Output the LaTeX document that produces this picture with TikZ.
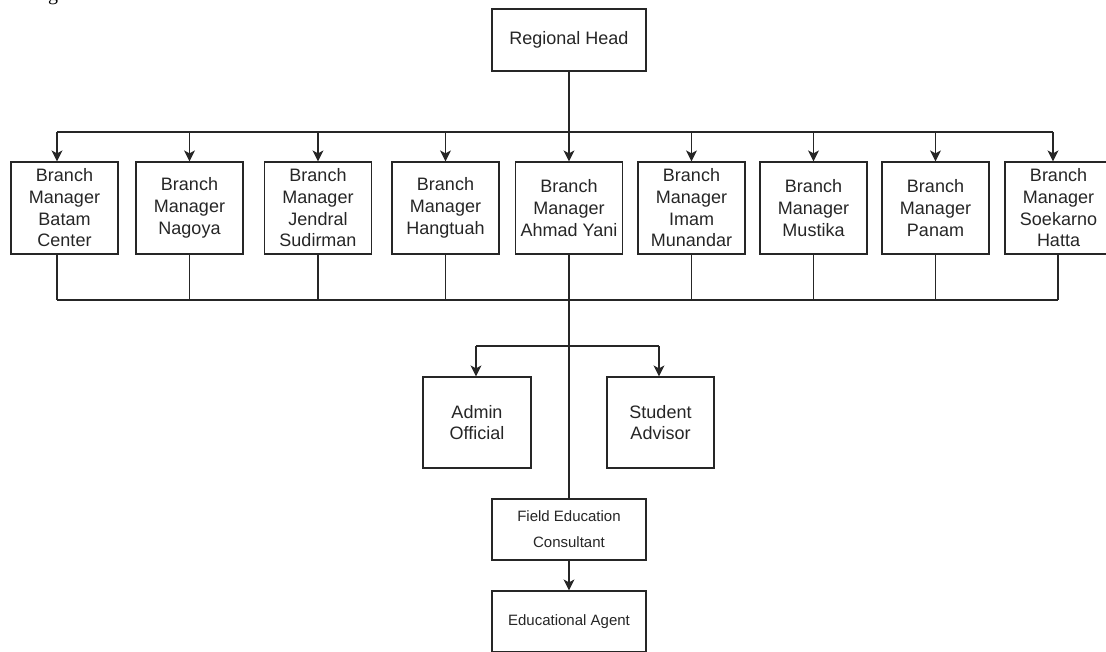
\documentclass[tikz,border=0pt]{standalone}
\usepackage{fontspec}
\setmainfont{Liberation Sans}
\newfontfamily\serifg{Liberation Serif}
\usetikzlibrary{arrows.meta}
\begin{document}
\begin{tikzpicture}[x=1pt,y=-1pt,
  box/.style={draw=black!85, line width=1.2pt, fill=white, minimum width=107pt, minimum height=92pt, inner sep=0pt, align=center, font=\fontsize{18}{21.7}\selectfont, text=black!85},
  smallbox/.style={box, minimum width=154pt, minimum height=61pt, font=\fontsize{15}{26}\selectfont},
  wire/.style={draw=black!85, line width=1.2pt},
  arr/.style={wire, -{Stealth[length=11pt,width=11pt,inset=3pt]}}]
\useasboundingbox (0,0) rectangle (1106,651);
\clip (0,0) rectangle (1106,651);
\fill[white] (0,0) rectangle (1106,651);

\node[font=\serifg\fontsize{20}{20}\selectfont, anchor=base, text=black] (gfrag) at (53,0) {g};

\node[box, minimum width=154pt, minimum height=62pt] (rh) at (569,40) {Regional Head};

\node[box] (b1) at (64.5,208) {Branch\\Manager\\Batam\\Center};
\node[box] (b2) at (189.5,208) {Branch\\Manager\\Nagoya};
\node[box] (b3) at (318,208) {Branch\\Manager\\Jendral\\Sudirman};
\node[box] (b4) at (445.5,208) {Branch\\Manager\\Hangtuah};
\node[box] (b5) at (569,208) {Branch\\Manager\\Ahmad Yani};
\node[box] (b6) at (691.5,208) {Branch\\Manager\\Imam\\Munandar};
\node[box] (b7) at (813.5,208) {Branch\\Manager\\Mustika};
\node[box] (b8) at (935.5,208) {Branch\\Manager\\Panam};
\node[box] (b9) at (1058.5,208) {Branch\\Manager\\Soekarno\\Hatta};

\node[box, minimum width=108pt, minimum height=91pt] (admin) at (477,422.5) {Admin\\Official};
\node[box, minimum width=107pt, minimum height=91pt] (adv) at (660.5,422.5) {Student\\Advisor};

\node[smallbox] (fec) at (569,529.5) {Field Education\\Consultant};
\node[smallbox] (ea) at (569,621.5) {Educational Agent};

% top bus
\coordinate (tl) at (57,132);
\coordinate (tr) at (1053,132);
\draw[wire] (tl) -- (tr);
\draw[arr] (rh.south) -- (b5.north);
\draw[arr] (tl) -- (tl |- b1.north);
\foreach \n in {b2,b3,b4,b6,b7,b8} {
  \draw[arr] (\n.north |- tl) -- (\n.north);
}
\draw[arr] (tr) -- (tr |- b9.north);

% bottom bus
\coordinate (bl) at (57,300);
\coordinate (br) at (1058,300);
\draw[wire] (bl) -- (br);
\draw[wire] (bl |- b1.south) -- (bl);
\foreach \n in {b2,b3,b4,b6,b7,b8} {
  \draw[wire] (\n.south) -- (\n.south |- bl);
}
\draw[wire] (br |- b9.south) -- (br);

% trunk
\draw[wire] (b5.south) -- (fec.north);
\coordinate (sl) at (476,346);
\coordinate (sr) at (659,346);
\draw[wire] (sl) -- (sr);
\draw[arr] (sl) -- (sl |- admin.north);
\draw[arr] (sr) -- (sr |- adv.north);
\draw[arr] (fec.south) -- (ea.north);
\end{tikzpicture}
\end{document}
